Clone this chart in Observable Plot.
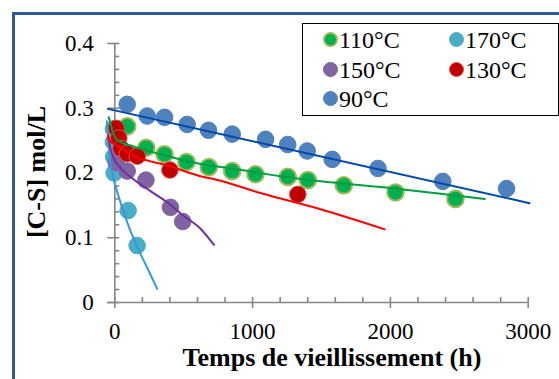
<!DOCTYPE html>
<html><head><meta charset="utf-8">
<script src="https://cdn.jsdelivr.net/npm/d3@7"></script>
<script src="https://cdn.jsdelivr.net/npm/@observablehq/plot@0.6"></script>
<style>
html,body{margin:0;background:#fff}
div{font-family:'Times New Roman',Tinos,'Liberation Serif',serif}
.wrap{position:relative;width:559px;height:379px;overflow:hidden;background:#fff}
.frameline{position:absolute;left:12px;top:12px;width:620px;height:440px;border:3px solid #2f5b94;box-sizing:border-box;pointer-events:none}
.legend{position:absolute;left:302px;top:23px;width:257px;height:93px;border:1.5px solid #000;box-sizing:border-box;background:#fff}
.li{position:absolute;height:20px;font-size:24px;line-height:20px;color:#000;white-space:nowrap}
.mk{position:absolute;left:0;top:2px;width:15px;height:15px;border-radius:50%;box-sizing:border-box}
.lt{position:absolute;left:16px;top:0}
.chart{position:absolute;left:0;top:0}
.xt{position:absolute;left:0;width:664px;top:345px;text-align:center;font-weight:bold;font-size:26px;line-height:26px;color:#000}
.yt{position:absolute;left:-63px;top:157px;width:200px;text-align:center;font-weight:bold;font-size:26px;line-height:30px;color:#000;transform:rotate(-90deg)}
</style></head>
<body>
<div class="wrap" id="wrap">
<div class="chart" id="chart"></div>
<div class="xt" id="xt">Temps de vieillissement (h)</div>
<div class="yt" id="yt">[C-S] mol/L</div>
<div class="frameline"></div>
<div class="legend" id="legend">
<div class="li" style="left:20px;top:6px"><span class="mk"></span><span class="lt">110°C</span></div>
<div class="li" style="left:146px;top:6px"><span class="mk"></span><span class="lt">170°C</span></div>
<div class="li" style="left:20px;top:35.5px"><span class="mk"></span><span class="lt">150°C</span></div>
<div class="li" style="left:146px;top:35.5px"><span class="mk"></span><span class="lt">130°C</span></div>
<div class="li" style="left:20px;top:65px"><span class="mk"></span><span class="lt">90°C</span></div>
</div>
</div>
<script>
// ---- data ----
const seriesNames = ["110°C", "170°C", "150°C", "130°C", "90°C"];
const fillColors = ["#00b050", "#4bacc6", "#8064a2", "#c00000", "#4f81bd"];
const strokeColors = ["#9bbb59", "#4bacc6", "#8064a2", "#d9504f", "#4f81bd"];
const lineColors = ["#00a040", "#3399dd", "#7030a0", "#ff0000", "#0047b0"];

const t110 = [90, 228, 361, 520, 682, 852, 1021, 1255, 1401, 1662, 2037, 2472];
const v110 = [0.272, 0.239, 0.229, 0.217, 0.209, 0.203, 0.198, 0.194, 0.189, 0.181, 0.170, 0.160];
const t170 = [-10, -10, -8, -5, 97, 162];
const v170 = [0.268, 0.248, 0.225, 0.200, 0.142, 0.088];
const t150 = [10, 90, 226, 404, 493];
const v150 = [0.216, 0.203, 0.189, 0.147, 0.125];
const t130 = [9, 29, 45, 92, 163, 400, 1328];
const v130 = [0.269, 0.254, 0.238, 0.230, 0.226, 0.2046, 0.167];
const t90 = [90, 235, 361, 525, 680, 852, 1094, 1255, 1396, 1578, 1910, 2380, 2843];
const v90 = [0.306, 0.288, 0.286, 0.275, 0.266, 0.260, 0.252, 0.244, 0.234, 0.221, 0.207, 0.187, 0.176];

// fitted curves
const c110t = [-44, -31, -17, 5, 41, 136, 259, 404, 525, 622, 912, 1204, 1639, 2075, 2365, 2685];
const c110v = [0.286, 0.277, 0.265, 0.254, 0.248, 0.241, 0.233, 0.225, 0.218, 0.214, 0.205, 0.195, 0.184, 0.175, 0.168, 0.160];
const c170t = [-57, -46, -31, -9, 20, 61, 107, 158, 223, 308];
const c170v = [0.280, 0.249, 0.214, 0.191, 0.169, 0.142, 0.114, 0.088, 0.059, 0.021];
const c150t = [-46, -31, -7, 41, 138, 259, 404, 491, 622, 720];
const c150v = [0.255, 0.237, 0.222, 0.208, 0.190, 0.172, 0.151, 0.135, 0.114, 0.089];
const c130t = [-49, -44, -24, 5, 78, 150, 259, 375, 622, 731, 1057, 1493, 1959];
const c130v = [0.258, 0.252, 0.247, 0.244, 0.234, 0.225, 0.218, 0.212, 0.195, 0.190, 0.169, 0.144, 0.113];
const c90t = [-50, 3010];
const c90v = [0.299, 0.1534];

const xTicks = [0, 1000, 2000, 3000];
const xMinorTicks = d3.range(0, 3001, 200);
const yTicks = [0, 0.1, 0.2, 0.3, 0.4];
const yMinorTicks = d3.range(0, 0.4001, 0.02);
const xAxisStart = -50;
const xTitle = "Temps de vieillissement (h)";
const yTitle = "[C-S] mol/L";

// ---- build ----
const FONT = "'Times New Roman', Tinos, 'Liberation Serif', serif";
const pts = [[t110, v110], [t170, v170], [t150, v150], [t130, v130], [t90, v90]];
const curves = [[c110t, c110v], [c170t, c170v], [c150t, c150v], [c130t, c130v], [c90t, c90v]];
const toRows = ([ts, vs]) => ts.map((t, i) => ({t, v: vs[i]}));
const axisColor = "#868686";

const marks = [
  Plot.ruleY([0], {x1: xAxisStart, x2: 3000, stroke: axisColor, strokeWidth: 1.6}),
  Plot.ruleX([0], {y1: 0, y2: 0.4, stroke: axisColor, strokeWidth: 1.6}),
  Plot.axisX(xTicks, {anchor: "bottom", tickSize: 6, tickPadding: 14, tickFormat: d => String(d), stroke: axisColor, strokeWidth: 1.6, fontSize: 23, fontFamily: FONT, label: null, fill: "#000"}),
  Plot.axisX(xMinorTicks, {anchor: "bottom", tickSize: -5, text: null, stroke: axisColor, strokeWidth: 1.6, label: null}),
  Plot.axisY(yTicks, {anchor: "left", tickSize: 7, tickPadding: 14, tickFormat: d => d === 0 ? "0" : d.toFixed(1), stroke: axisColor, strokeWidth: 1.6, fontSize: 23, fontFamily: FONT, label: null, fill: "#000"}),
  Plot.axisY(yMinorTicks, {anchor: "left", tickSize: -5, text: null, stroke: axisColor, strokeWidth: 1.6, label: null}),
];
pts.forEach((p, i) => {
  marks.push(Plot.dot(toRows(p), {x: "t", y: "v", r: 8.3, fill: fillColors[i], stroke: strokeColors[i], strokeWidth: i === 0 ? 2 : 1}));
});
curves.forEach((c, i) => {
  marks.push(Plot.line(toRows(c), {x: "t", y: "v", stroke: lineColors[i], strokeWidth: 2, curve: "monotone-x"}));
});

const chart = Plot.plot({
  width: 559, height: 379,
  marginLeft: 114.3, marginRight: 31.3, marginTop: 43, marginBottom: 77,
  x: {domain: [0, 3000], axis: null},
  y: {domain: [0, 0.4], axis: null},
  style: {fontFamily: FONT, fontSize: "23px", color: "#000", background: "transparent", overflow: "visible"},
  marks
});
document.getElementById("chart").appendChild(chart);
document.getElementById("xt").textContent = xTitle;
document.getElementById("yt").textContent = yTitle;

// legend: colour the markers and set the labels from the arrays
document.querySelectorAll("#legend .li").forEach((item, k) => {
  const mk = item.querySelector(".mk");
  mk.style.background = fillColors[k];
  mk.style.border = (k === 0 ? "2px" : "1px") + " solid " + strokeColors[k];
  item.querySelector(".lt").textContent = seriesNames[k];
});
</script>
</body></html>
